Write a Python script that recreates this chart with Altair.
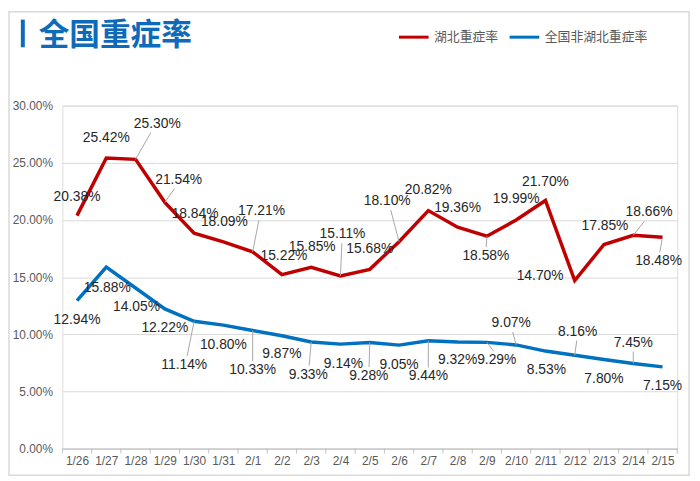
import altair as alt
import pandas as pd

dates = ['1/26', '1/27', '1/28', '1/29', '1/30', '1/31', '2/1', '2/2', '2/3', '2/4', '2/5',
         '2/6', '2/7', '2/8', '2/9', '2/10', '2/11', '2/12', '2/13', '2/14', '2/15']
hubei = [20.38, 25.42, 25.30, 21.54, 18.84, 18.09, 17.21, 15.22, 15.85, 15.11, 15.68,
         18.10, 20.82, 19.36, 18.58, 19.99, 21.70, 14.70, 17.85, 18.66, 18.48]
other = [12.94, 15.88, 14.05, 12.22, 11.14, 10.80, 10.33, 9.87, 9.33, 9.14, 9.28,
         9.05, 9.44, 9.32, 9.29, 9.07, 8.53, 8.16, 7.80, 7.45, 7.15]
series_names = ['湖北重症率', '全国非湖北重症率']
title_text = '全国重症率'

# label placement (pixel offsets from each point), layout only
hubei_dx = [0, 0, 22, 14, 1, 1, 9, 2, 1, 2, 0, -12, 0, 0, -1, 0, 0, -35, 1, 16, -4]
hubei_dy = [-19, -20, -36, -23, -19, -20, -41, -19, -21, -42, -21, -41, -21, -19, 20, -21, -19, -5, -19, -23, 24]
other_dx = [0, 1, 1, 0, -10, 0, 0, 0, -3, 3, -1, 0, 0, 0, 10, -5, 1, 3, 0, 0, 0]
other_dy = [20, 21, 19, 19, 44, 20, 40, 19, 33, 20, 34, 20, 36, 18, 18, -22, 19, -24, 20, -21, 19]
hubei_leader = [2, 3, 6, 9, 11, 14, 19, 20]
other_leader = [4, 6, 8, 10, 12, 14, 15, 17, 19]

W, H = 622, 347
N = len(dates)
UX = N / W      # x units per pixel
UY = 30.0 / H   # y units per pixel

RED = '#C00000'
BLUE = '#0070C0'
FONT = 'Liberation Sans, Arial, Noto Sans CJK SC'

rows = []
for name, vals, dxs, dys, leads in [
    (series_names[0], hubei, hubei_dx, hubei_dy, hubei_leader),
    (series_names[1], other, other_dx, other_dy, other_leader),
]:
    for i, v in enumerate(vals):
        dx, dy = dxs[i], dys[i]
        sgn = 1 if dy > 0 else -1
        rows.append({
            'i': i, 'v': v, 'series': name,
            'label': f'{v:.2f}%',
            'lx': i + dx * UX, 'ly': v - dy * UY,
            'ex': i + 0.7 * dx * UX, 'ey': v - (dy - sgn * 9) * UY,
            'lead': i in leads,
        })
df = pd.DataFrame(rows)

xscale = alt.Scale(domain=[-0.5, N - 0.5], nice=False, zero=False)
yscale = alt.Scale(domain=[0, 30], nice=False)

date_arr = '[' + ','.join(f"'{d}'" for d in dates) + ']'

xaxis = alt.Axis(values=list(range(N)), labelExpr=f'{date_arr}[datum.value]',
                 ticks=False, grid=False, domainColor='#bfbfbf', title=None,
                 labelColor='#595959', labelFontSize=12, labelFont=FONT,
                 labelPadding=7, labelOverlap=False, labelFlush=False)
yaxis = alt.Axis(values=[0, 5, 10, 15, 20, 25, 30],
                 labelExpr="format(datum.value, '.2f') + '%'",
                 ticks=False, domain=False, gridColor='#d9d9d9', title=None,
                 labelColor='#595959', labelFontSize=12, labelFont=FONT,
                 labelPadding=10, labelOverlap=False, labelFlush=False)

base = alt.Chart(df)

lines = base.mark_line(strokeWidth=3.5).encode(
    x=alt.X('i:Q', scale=xscale, axis=xaxis),
    y=alt.Y('v:Q', scale=yscale, axis=yaxis),
    color=alt.Color('series:N',
                    scale=alt.Scale(domain=series_names, range=[RED, BLUE]),
                    legend=alt.Legend(orient='none', legendX=339, legendY=-86,
                                      direction='horizontal', title=None,
                                      symbolType='stroke', symbolStrokeWidth=3,
                                      symbolSize=900, labelFontSize=13,
                                      labelColor='#595959', labelFont=FONT,
                                      labelOffset=4, columnPadding=4)),
    detail='series:N',
)

leaders = base.transform_filter('datum.lead').mark_rule(color='#a6a6a6', strokeWidth=1).encode(
    x=alt.X('i:Q', scale=xscale, axis=xaxis), y=alt.Y('v:Q', scale=yscale, axis=yaxis),
    x2='ex:Q', y2='ey:Q',
)

labels = base.mark_text(fontSize=14, font=FONT, color='#262626',
                        align='center', baseline='middle').encode(
    x=alt.X('lx:Q', scale=xscale, axis=xaxis), y=alt.Y('ly:Q', scale=yscale, axis=yaxis),
    text='label:N',
)

ticks_df = pd.DataFrame({'b': [k - 0.5 for k in range(N + 1)]})
xticks = alt.Chart(ticks_df).mark_rule(color='#bfbfbf', strokeWidth=1).encode(
    x=alt.X('b:Q', scale=xscale, axis=xaxis), y=alt.value(H), y2=alt.value(H + 5),
)

tdf = pd.DataFrame({'t': [title_text]})
title = alt.Chart(tdf).mark_text(fontSize=31, fontWeight='bold', font='Noto Sans CJK SC',
                                 color='#0E6BBA', align='left', baseline='alphabetic').encode(
    x=alt.value(-24), y=alt.value(-61), text='t:N',
)
bar = alt.Chart(tdf).mark_rect(color='#0E6BBA').encode(
    x=alt.value(-42), x2=alt.value(-38), y=alt.value(-87), y2=alt.value(-59),
)
frame = alt.Chart(tdf).mark_rect(fill=None, stroke='#d9d9d9', strokeWidth=1.5).encode(
    x=alt.value(-54), x2=alt.value(634), y=alt.value(-95), y2=alt.value(374),
)

chart = alt.layer(lines, frame, xticks, leaders, labels, title, bar).properties(
    width=W, height=H,
    autosize=alt.AutoSizeParams(type='none'),
    padding={'left': 55, 'top': 96, 'right': 15, 'bottom': 28},
).configure_view(stroke=None).configure_axis(labelOverlap=False).configure(background='white')

chart.save('out.html', embed_options={'renderer': 'svg', 'actions': False})
